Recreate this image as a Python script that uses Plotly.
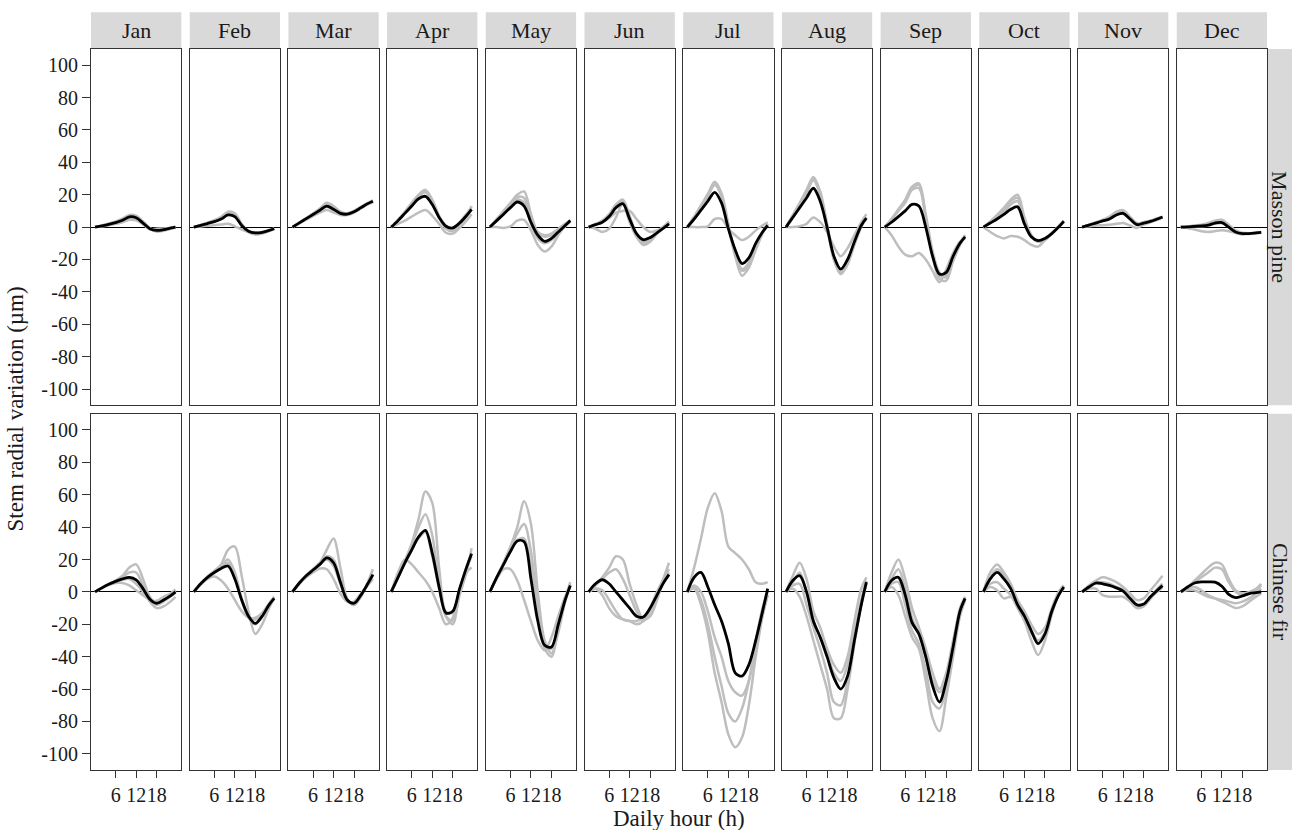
import plotly.graph_objects as go
from plotly.subplots import make_subplots

HOURS = [0, 2, 4, 6, 8, 10, 12, 14, 16, 18, 20, 22, 23.5]
MONTHS = ["Jan", "Feb", "Mar", "Apr", "May", "Jun", "Jul", "Aug", "Sep", "Oct", "Nov", "Dec"]
SPECIES = ["Masson pine", "Chinese fir"]
Y_TICKS = [-100, -80, -60, -40, -20, 0, 20, 40, 60, 80, 100]
X_TICKS = [6, 12, 18]

# ---------------- Masson pine (top row) ----------------
pine_jan_mean = [0, 0.8, 1.7, 2.8, 4.2, 6.3, 5.8, 2.5, -1, -2, -1.6, -0.7, 0]
pine_jan_trees = [[0, 1, 2.2, 3.5, 5.2, 7.5, 7, 3.5, -0.5, -2.5, -2, -1, 0],
                  [0, 0.9, 2, 3.2, 4.8, 7, 6.5, 3, -1, -2.8, -2.2, -1, -0.2],
                  [0, 0.6, 1.4, 2.2, 3.5, 5.5, 5, 2, -1.2, -1.8, -1.4, -0.6, 0.2],
                  [0, 0.5, 1.2, 2, 3, 4.5, 4.2, 1.8, -1.3, -1, -0.8, -0.4, 0]]
pine_feb_mean = [0, 1, 2.2, 3.4, 5, 7.5, 6.5, 1, -2.5, -3.6, -3.2, -2, -1]
pine_feb_trees = [[0, 1.3, 2.8, 4.3, 6.3, 9.5, 8.5, 2, -3, -4.5, -4, -2.5, -1.2],
                  [0, 1.2, 2.6, 4, 6, 9, 8, 1.5, -3, -4.2, -3.8, -2.3, -1],
                  [0, 1, 2.2, 3.3, 5, 7.5, 6.5, 1.2, -2.5, -4, -3.5, -2, -1],
                  [0, 0.4, 0.8, 1.2, 1.6, 2, 0.5, -1.5, -3, -3.5, -3, -2, -0.8]]
pine_mar_mean = [0, 2.6, 5.2, 7.8, 10.4, 13, 11, 8.5, 8, 9.5, 12, 14.5, 16]
pine_mar_trees = [[0, 2.8, 5.6, 8.4, 11.5, 15, 13, 9.5, 8.5, 10, 12.5, 15, 16.5],
                  [0, 2.7, 5.4, 8.2, 11, 14, 12, 9, 8.2, 9.8, 12.2, 14.8, 16.3],
                  [0, 2.6, 5.1, 7.6, 10, 12.5, 10.5, 8, 7.8, 9.3, 11.8, 14.2, 15.8],
                  [0, 2.3, 4.6, 7, 9, 10.5, 9, 7.5, 7.5, 9, 11.5, 14, 15.5]]
pine_apr_mean = [0, 4, 8.5, 13, 17.5, 19, 14, 6, 0.5, -0.5, 2.5, 7, 11]
pine_apr_trees = [[0, 4.5, 9.5, 15, 20, 23, 17, 7, 0, -1.5, 2.5, 8, 12.5],
                  [0, 4.5, 9.5, 14.5, 19.5, 22, 16, 6, -1, -2.5, 1.5, 7, 13],
                  [0, 4.3, 9, 14, 19, 21.5, 15.5, 6.5, 1, -1, 3, 8, 11],
                  [0, 2, 4, 6.5, 9, 10.5, 7, 2, -3.5, -4, -0.5, 4, 8]]
pine_may_mean = [0, 4, 8, 12, 15.5, 13, 3, -5, -8.8, -7, -3, 1, 4]
pine_may_trees = [[0, 5, 10, 15, 20, 22, 8, -3, -5, -4, -1, 2, 4],
                  [0, 4.8, 9.5, 14, 18.5, 18, 5, -4, -6, -5, -2, 1.5, 4.5],
                  [0, 4.5, 9, 13.5, 17, 15, 2, -7, -10, -8, -4, 0.5, 4],
                  [0, 0, -0.5, 0.5, 4, 4.5, -2, -11, -15, -12, -5, 1, 3]]
pine_jun_mean = [0, 1.5, 3, 6.5, 12, 14.5, 5, -4, -7.8, -6.5, -3.5, -0.5, 2]
pine_jun_trees = [[0, 2, 4, 8, 14, 17, 7, -5, -10, -8, -4, 0, 3],
                  [0, 1.5, 3.5, 7, 13, 16, 6, -4, -9, -7, -3, 0.5, 3],
                  [0, -1, -3, -1, 6, 14.5, 3, -6, -11, -9, -4, 0, 3.5],
                  [0, 1.5, 3, 5.5, 9, 10, 10, 5, 0, -3, -2, 0, 2.5]]
pine_jul_mean = [0, 5, 10.5, 16, 21.5, 15, -1, -14, -22.5, -19, -10, -3, 1]
pine_jul_trees = [[0, 6.5, 13.5, 20.5, 28, 21, 2, -16, -27, -24, -13, -3, 2],
                  [0, 6, 13, 20, 27, 19, 0, -18, -30, -25, -14, -4, 1.5],
                  [0, 6, 12.5, 19, 26, 19.5, 1, -15, -26, -22, -12, -3, 2],
                  [0, 0, 0, 0.5, 5, 5, -1, -5, -8, -6, -2, 1, 3]]
pine_aug_mean = [0, 6, 12, 18, 24, 16, 0, -18, -26, -20, -9, 1, 5.5]
pine_aug_trees = [[0, 7.5, 15, 23, 31, 22, 2, -20, -29, -23, -11, 0, 6],
                  [0, 7, 14, 21.5, 30, 21, 1, -19, -28, -22, -10, 1, 6],
                  [0, 7, 14, 21, 29, 20, 0, -20, -29, -22, -10, 1, 5],
                  [0, 0, 0.5, 2, 6, 3, -3, -12, -18, -13, -5, 3, 8]]
pine_sep_mean = [0, 3, 6.5, 10, 14, 13, 0, -18, -29, -28, -18, -10, -6]
pine_sep_trees = [[0, 5, 11, 17, 25, 27, 8, -15, -28, -31, -20, -11, -5],
                  [0, 5, 10.5, 16, 24, 26, 6, -16, -30, -30, -19, -10, -5],
                  [0, 4.5, 10, 15, 23, 24, 5, -18, -32, -33, -21, -11, -6],
                  [0, -5, -12, -17, -18, -16, -20, -27, -34, -26, -16, -9, -7]]
pine_oct_mean = [0, 2.5, 5, 7.8, 11, 12.5, 2, -6, -8.4, -7, -4, 0, 3.5]
pine_oct_trees = [[0, 3.5, 7.5, 12, 17, 20, 6, -5, -9, -8, -4, 0.5, 3.5],
                  [0, 3.2, 7, 11, 16, 18, 5, -5, -9, -7.5, -4, 0.5, 4],
                  [0, 3, 6, 9.5, 14, 16, 3, -6, -8.5, -7, -3.5, 0.5, 4],
                  [0, -3, -5.5, -7, -5.5, -6, -8, -11, -12, -8, -4, 0, 3]]
pine_nov_mean = [0, 1.2, 2.5, 3.8, 5, 7.5, 8.5, 5, 1.5, 2.5, 3.5, 5, 6.2]
pine_nov_trees = [[0, 1.5, 3, 4.5, 6.5, 9.5, 10.5, 6.5, 2.5, 3, 4, 5.5, 6.5],
                  [0, 1.4, 2.8, 4.3, 6, 9, 10, 6, 2, 3, 4, 5.3, 6.3],
                  [0, 1.2, 2.5, 3.8, 5, 7.5, 8.5, 5, 1.5, 2.5, 3.5, 5, 6.2],
                  [0, 0.5, 1, 1.2, 1.5, 2, 2.5, 1, -0.5, 1.5, 3, 4.5, 5.8]]
pine_dec_mean = [0, 0.2, 0.5, 0.7, 1.2, 2.5, 2.8, 0, -3, -4, -4, -3.6, -3.3]
pine_dec_trees = [[0, 0.5, 1, 1.5, 2.5, 4, 4.5, 1.5, -2, -3.5, -3.8, -3.5, -3.2],
                  [0, 0.4, 0.8, 1.2, 2, 3.5, 4, 1, -2.5, -4, -4, -3.6, -3.3],
                  [0, 0.2, 0.5, 0.5, 1, 2, 2.5, 0, -3.5, -4.5, -4.2, -3.8, -3.5],
                  [0, -0.5, -1.5, -2.5, -3, -2.5, -2, -2.5, -3.5, -4, -4, -3.6, -3.3]]

# ---------------- Chinese fir (bottom row) ----------------
fir_jan_mean = [0, 2.5, 4.7, 6.5, 8, 9, 7.5, 2, -4.5, -7, -5, -2.5, 0]
fir_jan_trees = [[0, 2.5, 4.8, 7, 10, 15, 17, 8, -3, -8, -6, -3, -0.5],
                 [0, 2.5, 4.7, 6.8, 9, 12, 12, 4, -4, -7, -5, -2, 1],
                 [0, 2.5, 4.5, 6.3, 7.5, 8, 5, 0, -6, -10, -9, -6, -3],
                 [0, 2.3, 4.3, 5.5, 5.5, 4, 1, -2, -5, -5.5, -3, -1, 1.5]]
fir_feb_mean = [0, 5, 9, 12, 14.5, 16, 8, -5, -15, -19.5, -15, -8, -4]
fir_feb_trees = [[0, 5, 9.5, 13, 17, 26, 28, 10, -12, -26, -20, -10, -4],
                 [0, 5, 9, 12.5, 16, 20, 12, -4, -15, -17, -14, -8, -3],
                 [0, 5, 9, 12.5, 15.5, 18, 10, -5, -16, -20, -15, -8, -4],
                 [0, 4.5, 8, 9.5, 7, 2, -5, -12, -16, -16, -13, -7, -3]]
fir_mar_mean = [0, 5.5, 10, 13.5, 17, 21, 18, 6, -5, -7, -2, 5, 10.7]
fir_mar_trees = [[0, 5.5, 10, 14, 18, 26, 33, 15, -4, -8, -3, 6, 14],
                 [0, 5.5, 10, 14, 18, 22, 20, 7, -5, -8, -2, 5, 11],
                 [0, 5.5, 10, 13.5, 17, 20, 16, 5, -5, -8, -2, 5, 10],
                 [0, 5, 9, 12, 14.5, 14, 8, -1, -6, -6, -1, 4, 8]]
fir_apr_mean = [0, 9, 18, 26, 34, 38, 24, 3, -13, -12, 2, 15, 23.6]
fir_apr_trees = [[0, 9, 19, 30, 45, 62, 55, 15, -15, -20, 0, 14, 22],
                 [0, 9, 19, 29, 40, 48, 35, 5, -15, -18, -2, 12, 27],
                 [0, 9, 18, 26, 33, 37, 22, 2, -12, -13, 2, 15, 24],
                 [0, 12, 20, 17, 12, 7, 0, -10, -20, -16, 0, 12, 15]]
fir_may_mean = [0, 9, 17, 25, 31.5, 31, 8, -18, -33, -34, -20, -5, 4]
fir_may_trees = [[0, 9, 18, 28, 40, 56, 42, 0, -30, -38, -25, -6, 4],
                 [0, 9, 18, 27, 36, 42, 25, -10, -35, -40, -22, -5, 5],
                 [0, 9, 17, 25, 32, 33, 15, -15, -34, -35, -20, -4, 6],
                 [0, 8, 14, 14, 7, -5, -18, -30, -36, -28, -15, -3, 3]]
fir_jun_mean = [0, 5, 7.5, 5, 0, -5, -10, -15, -15.5, -10, -2, 6, 10.7]
fir_jun_trees = [[0, 4, 9, 15, 22, 20, 5, -8, -17, -15, -5, 8, 14],
                 [0, 4, 8, 12, 14, 8, -2, -12, -18, -12, -2, 9, 18],
                 [0, 2, 1, -5, -12, -17, -18, -18, -16, -10, -2, 6, 11],
                 [0, 2, -2, -10, -15, -17, -18, -20, -18, -10, 0, 8, 12]]
fir_jul_mean = [0, 9, 12, 3, -8, -18, -32, -50, -52, -45, -30, -12, 2]
fir_jul_trees = [[0, 15, 33, 52, 61, 50, 28, 24, 20, 14, 6, 5, 6],
                 [0, 2, -8, -25, -50, -68, -88, -96, -90, -70, -40, -15, -2],
                 [0, 3, -5, -20, -40, -58, -75, -80, -72, -55, -30, -10, 0],
                 [0, 4, 0, -12, -28, -40, -55, -62, -64, -55, -35, -14, -2]]
fir_aug_mean = [0, 7, 10, 0, -18, -28, -40, -53, -60, -52, -30, -8, 6]
fir_aug_trees = [[0, 10, 18, 8, -12, -22, -35, -45, -50, -40, -18, 2, 9],
                 [0, 6, 12, 0, -18, -28, -38, -50, -55, -45, -25, -5, 7],
                 [0, 4, 5, -8, -22, -35, -50, -68, -70, -55, -30, -8, 5],
                 [0, 2, -3, -15, -30, -45, -60, -78, -78, -60, -32, -8, 6]]
fir_sep_mean = [0, 7, 9, -2, -19, -26, -40, -58, -68, -55, -34, -12, -4]
fir_sep_trees = [[0, 12, 20, 8, -10, -22, -35, -50, -60, -50, -30, -12, -4],
                 [0, 8, 14, 2, -16, -26, -40, -55, -62, -55, -32, -10, -3],
                 [0, 5, 6, -8, -24, -32, -48, -68, -72, -60, -36, -14, -5],
                 [0, 3, -2, -15, -28, -35, -55, -78, -86, -65, -40, -15, -5]]
fir_oct_mean = [0, 8, 12, 8, 2, -8, -15, -24, -32, -26, -12, -2, 3]
fir_oct_trees = [[0, 12, 17, 12, 5, -5, -12, -20, -26, -22, -10, 0, 4],
                 [0, 9, 14, 10, 3, -6, -14, -24, -30, -25, -12, -2, 3],
                 [0, 5, 6, 2, -2, -10, -18, -30, -39, -30, -14, -2, 2],
                 [0, 3, 1, -4, -3, -8, -15, -25, -32, -26, -12, -1, 3]]
fir_nov_mean = [0, 3, 5.5, 5, 4, 2.5, 0.5, -4, -8, -7.5, -3, 1, 3.9]
fir_nov_trees = [[0, 4, 7, 9, 8, 6, 3, -1, -5, -4, 1, 6, 10],
                 [0, 3, 6, 6, 5, 3, 1, -3, -8, -8, -3, 2, 5],
                 [0, 2, 2, -2, -3, -3, -3, -6, -10, -9, -4, 0, 3],
                 [0, 3, 5, 5, 4, 3, 1, -3, -8, -8, -4, 1, 3]]
fir_dec_mean = [0, 3, 5.5, 6.2, 6.2, 6, 3.5, -1.5, -3.5, -2.5, -1, -0.5, 0]
fir_dec_trees = [[0, 3, 7, 11, 15, 18, 17, 8, 1, -1, 0, 2, 5],
                 [0, 3, 6, 9, 12, 15, 14, 6, 0, -2, -1, 1, 4],
                 [0, 2, 3, 1, -2, -4, -6, -8, -10, -9, -6, -3, -1],
                 [0, 1, 1, -1, -3, -4, -5, -6, -7, -6, -4, -1, 2]]

PINE_MEANS = [pine_jan_mean, pine_feb_mean, pine_mar_mean, pine_apr_mean, pine_may_mean, pine_jun_mean,
              pine_jul_mean, pine_aug_mean, pine_sep_mean, pine_oct_mean, pine_nov_mean, pine_dec_mean]
PINE_TREES = [pine_jan_trees, pine_feb_trees, pine_mar_trees, pine_apr_trees, pine_may_trees, pine_jun_trees,
              pine_jul_trees, pine_aug_trees, pine_sep_trees, pine_oct_trees, pine_nov_trees, pine_dec_trees]
FIR_MEANS = [fir_jan_mean, fir_feb_mean, fir_mar_mean, fir_apr_mean, fir_may_mean, fir_jun_mean,
             fir_jul_mean, fir_aug_mean, fir_sep_mean, fir_oct_mean, fir_nov_mean, fir_dec_mean]
FIR_TREES = [fir_jan_trees, fir_feb_trees, fir_mar_trees, fir_apr_trees, fir_may_trees, fir_jun_trees,
             fir_jul_trees, fir_aug_trees, fir_sep_trees, fir_oct_trees, fir_nov_trees, fir_dec_trees]

# ---------------- layout geometry ----------------
W, H = 1292, 830
ML, MR, MT, MB = 91, 25, 49, 60
PW, PH = W - ML - MR, H - MT - MB
FONT = "Liberation Serif, Times New Roman, serif"
TXT = "#1a1a1a"
GRAY = "#BEBEBE"

fig = make_subplots(rows=2, cols=12, horizontal_spacing=8.4 / PW, vertical_spacing=8.6 / PH)

for r, (means, trees) in enumerate([(PINE_MEANS, PINE_TREES), (FIR_MEANS, FIR_TREES)], start=1):
    for c in range(12):
        for tr in trees[c]:
            fig.add_trace(go.Scatter(x=HOURS, y=tr, mode="lines",
                                     line=dict(color=GRAY, width=2.5, shape="spline", smoothing=0.9),
                                     showlegend=False, hoverinfo="skip"), row=r, col=c + 1)
        fig.add_trace(go.Scatter(x=HOURS, y=means[c], mode="lines",
                                 line=dict(color="black", width=2.8, shape="spline", smoothing=0.9),
                                 showlegend=False), row=r, col=c + 1)

fig.update_xaxes(range=[-1.2, 25.2], showgrid=False, zeroline=False, showline=True, mirror=True,
                 linecolor="#333333", linewidth=1, tickvals=X_TICKS, ticktext=[str(v) for v in X_TICKS],
                 ticks="", showticklabels=False, tickangle=0)
fig.update_xaxes(row=2, ticks="outside", ticklen=7, tickwidth=1, tickcolor="#333333",
                 showticklabels=True, tickangle=0, tickfont=dict(family=FONT, size=20, color=TXT))
fig.update_yaxes(range=[-110, 110], showgrid=False, zeroline=True, zerolinecolor="black", zerolinewidth=1.3,
                 showline=True, mirror=True, linecolor="#333333", linewidth=1,
                 tickvals=Y_TICKS, ticktext=[str(v) for v in Y_TICKS], ticks="", showticklabels=False)
fig.update_yaxes(col=1, ticks="outside", ticklen=8, tickwidth=1, tickcolor="#333333",
                 showticklabels=True, tickfont=dict(family=FONT, size=20, color=TXT))

shapes, annotations = [], []
# top strips
for c in range(12):
    dom = fig.layout["xaxis" if c == 0 else f"xaxis{c + 1}"].domain
    y0 = (H - MB - 48.3) / PH
    y1 = (H - MB - 12.3) / PH
    shapes.append(dict(type="rect", xref="paper", yref="paper", x0=dom[0], x1=dom[1], y0=y0, y1=y1,
                       fillcolor="#D9D9D9", line=dict(width=0), layer="below"))
    annotations.append(dict(text=MONTHS[c], xref="paper", yref="paper", x=(dom[0] + dom[1]) / 2,
                            y=(y0 + y1) / 2, showarrow=False, xanchor="center", yanchor="middle",
                            font=dict(family=FONT, size=22, color=TXT)))
# right strips
for r in range(2):
    dom = fig.layout["yaxis" if r == 0 else "yaxis13"].domain
    x0 = (1267.5 - ML) / PW
    x1 = (1310 - ML) / PW
    shapes.append(dict(type="rect", xref="paper", yref="paper", x0=x0, x1=x1, y0=dom[0], y1=dom[1],
                       fillcolor="#D9D9D9", line=dict(width=0), layer="below"))
    annotations.append(dict(text=SPECIES[r], xref="paper", yref="paper", x=(1280 - ML) / PW,
                            y=(dom[0] + dom[1]) / 2, showarrow=False, textangle=90,
                            xanchor="center", yanchor="middle",
                            font=dict(family=FONT, size=22, color=TXT)))
# axis titles
annotations.append(dict(text="Daily hour (h)", xref="paper", yref="paper", x=0.5, y=(H - MB - 818) / PH,
                        showarrow=False, xanchor="center", yanchor="middle",
                        font=dict(family=FONT, size=23, color=TXT)))
annotations.append(dict(text="Stem radial variation (µm)", xref="paper", yref="paper", x=(15 - ML) / PW,
                        y=0.5, showarrow=False, textangle=-90, xanchor="center", yanchor="middle",
                        font=dict(family=FONT, size=23, color=TXT)))

fig.update_layout(width=W, height=H, margin=dict(l=ML, r=MR, t=MT, b=MB),
                  paper_bgcolor="white", plot_bgcolor="white", shapes=shapes, annotations=annotations,
                  font=dict(family=FONT, color=TXT))

fig.write_html("out.html")
